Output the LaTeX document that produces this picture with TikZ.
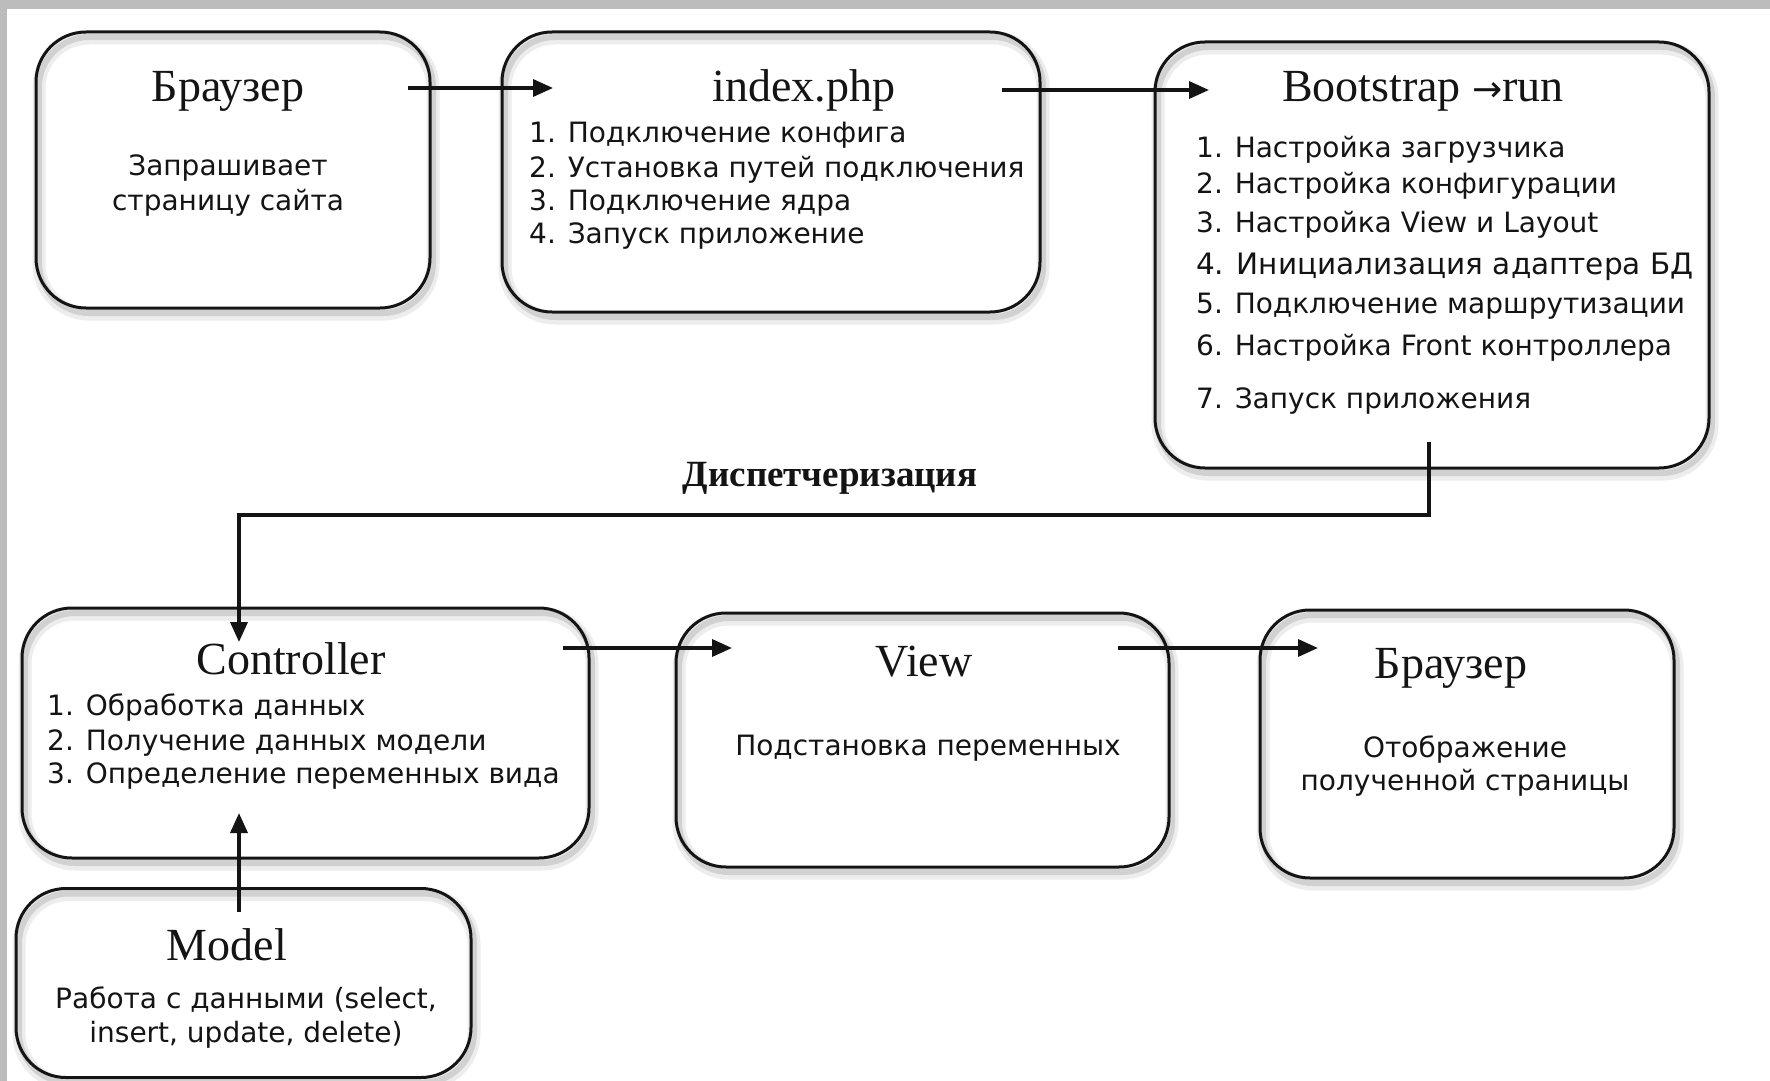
\documentclass[tikz,border=0pt]{standalone}
\usepackage{fontspec}
\setmainfont{Liberation Serif}
\newfontfamily\bodyfont{DejaVu Sans}
\newfontfamily\arrfont{DejaVu Sans}
\usetikzlibrary{arrows.meta,shadows}
\definecolor{bgstrip}{RGB}{188,188,188}
\definecolor{ink}{RGB}{20,20,20}
\tikzset{
  box/.style={draw=ink, line width=3pt, rounded corners=50pt, inner sep=0pt,
    general shadow={draw=black!7, line width=13pt, shadow xshift=3pt, shadow yshift=-6pt},
    general shadow={draw=black!18, line width=6pt, shadow xshift=3pt, shadow yshift=-5pt}},
  ttl/.style={font=\fontsize{46}{50}\selectfont, text=ink, anchor=base, inner sep=0pt},
  body/.style={font=\bodyfont\fontsize{28}{34}\selectfont, text=ink, anchor=base, inner sep=0pt},
  item/.style={body, anchor=base west},
  bigitem/.style={item, font=\bodyfont\fontsize{29.5}{34}\selectfont},
  arr/.style={draw=ink, line width=3.5pt, -{Triangle[length=20pt,width=17pt]}},
}
\begin{document}
\begin{tikzpicture}[x=1pt,y=-1pt]
\useasboundingbox (0,0) rectangle (1770,1081);
\fill[bgstrip] (0,0) rectangle (1770,1081);
\fill[white] (7,9) rectangle (1770,1081);

% boxes
\node[box, minimum width=394pt, minimum height=276pt] (b1) at (233,170) {};
\node[box, minimum width=538pt, minimum height=280pt] (b2) at (771,172) {};
\node[box, minimum width=554pt, minimum height=426pt] (b3) at (1432,255) {};
\node[box, minimum width=567pt, minimum height=250pt] (b4) at (305.5,733) {};
\node[box, minimum width=493pt, minimum height=254pt] (b5) at (922.5,740) {};
\node[box, minimum width=414pt, minimum height=268pt] (b6) at (1467,744) {};
\node[box, minimum width=455pt, minimum height=189pt] (b7) at (243.5,983) {};

% box 1
\node[ttl] (t1) at (228,102) {Браузер};
\node[body] (t1a) at (228,175) {Запрашивает};
\node[body] (t1b) at (228,210) {страницу сайта};

% box 2
\node[ttl] (t2) at (804,102) {index.php};
\node[item] (t2a) at (529,142) {1. Подключение конфига};
\node[item] (t2b) at (529,177) {2. Установка путей подключения};
\node[item] (t2c) at (529,210) {3. Подключение ядра};
\node[item] (t2d) at (529,243) {4. Запуск приложение};

% box 3
\node[ttl] (t3) at (1423,102) {Bootstrap {\arrfont\fontsize{36}{36}\selectfont →}run};
\node[item] (t3a) at (1196,157) {1. Настройка загрузчика};
\node[item] (t3b) at (1196,193) {2. Настройка конфигурации};
\node[item] (t3c) at (1196,232) {3. Настройка View и Layout};
\node[bigitem] (t3d) at (1196,274) {4. Инициализация адаптера БД};
\node[item] (t3e) at (1196,313) {5. Подключение маршрутизации};
\node[item] (t3f) at (1196,355) {6. Настройка Front контроллера};
\node[item] (t3g) at (1196,408) {7. Запуск приложения};

% dispatch label
\node[font=\bfseries\fontsize{37}{40}\selectfont, text=ink, anchor=base, inner sep=0pt] (lbl) at (830,486) {Диспетчеризация};

% box 4
\node[ttl] (t4) at (291,674) {Controller};
\node[item] (t4a) at (47,715) {1. Обработка данных};
\node[item] (t4b) at (47,750) {2. Получение данных модели};
\node[item] (t4c) at (47,783) {3. Определение переменных вида};

% box 5
\node[ttl] (t5) at (924,676) {View};
\node[body] (t5a) at (928,755) {Подстановка переменных};

% box 6
\node[ttl] (t6) at (1451,678) {Браузер};
\node[body] (t6a) at (1465,757) {Отображение};
\node[body] (t6b) at (1465,790) {полученной страницы};

% box 7
\node[ttl] (t7) at (227,960) {Model};
\node[body] (t7a) at (246,1008) {Работа с данными (select,};
\node[body] (t7b) at (246,1042) {insert, update, delete)};

% connector end points
\coordinate (a1s) at (408,88);
\coordinate (a1e) at (553,88);
\coordinate (a2s) at (1002,90);
\coordinate (a2e) at (1209,90);
\coordinate (d0) at (1429,442);
\coordinate (d1) at (239,515);
\coordinate (d2) at (239,642);
\coordinate (a3s) at (563,648);
\coordinate (a3e) at (732,648);
\coordinate (a4s) at (1118,648);
\coordinate (a4e) at (1318,648);
\coordinate (a5s) at (239,912);
\coordinate (a5e) at (239,813);

\draw[arr] (a1s) -- (a1e);
\draw[arr] (a2s) -- (a2e);
\draw[arr] (d0) |- (d1) -- (d2);
\draw[arr] (a3s) -- (a3e);
\draw[arr] (a4s) -- (a4e);
\draw[arr] (a5s) -- (a5e);
\end{tikzpicture}
\end{document}
